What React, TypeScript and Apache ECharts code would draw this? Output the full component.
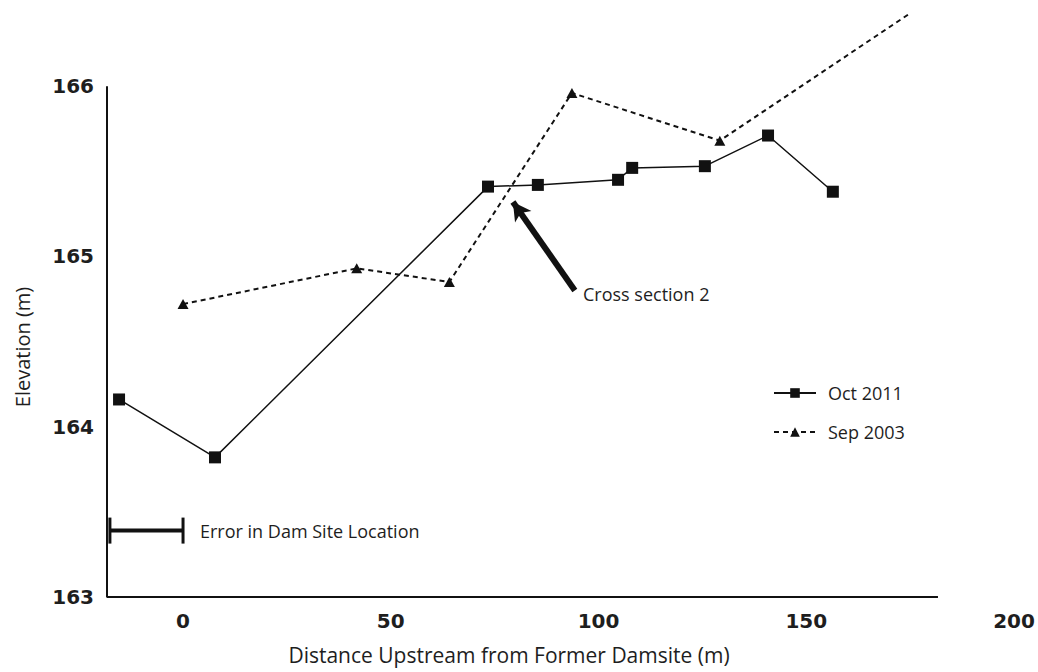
import React, { useEffect, useRef } from "react";
import * as echarts from "echarts";

// Oct 2011 survey (squares, solid line)
const octX = [-15.4, 7.7, 73.4, 85.4, 104.7, 108.1, 125.6, 140.8, 156.4];
const octY = [164.16, 163.82, 165.41, 165.42, 165.45, 165.52, 165.53, 165.71, 165.38];
// Sep 2003 survey (triangles, dashed line); last point is where the line leaves the frame
const sepX = [0, 41.8, 64.1, 93.6, 129.2, 174.5];
const sepY = [164.72, 164.93, 164.85, 165.96, 165.68, 166.42];
// tick labels
const xTicks = [0, 50, 100, 150, 200];
const yTicks = [163, 164, 165, 166];
// axis frame (drawn in data space)
const frameX = [-18.3, -18.3, 181.7];
const frameY = [166, 163, 163];
// error bar for dam site location
const errX = [-17.6, 0];
const errY = [163.39, 163.39];
// arrow pointing at cross section 2 (tail -> tip)
const arrowX = [94.3, 79.4];
const arrowY = [164.8, 165.32];

const FONT = "'Open Sans', 'Noto Sans', sans-serif";
const TICKFONT = "'DejaVu Sans', sans-serif";

export default function App() {
  const ref = useRef<HTMLDivElement>(null);
  useEffect(() => {
    if (!ref.current) return;
    const chart = echarts.init(ref.current, null, { renderer: "svg" });
    const zip = (xs: number[], ys: number[]) => xs.map((x, i) => [x, ys[i]]);
    const sepData: any[] = zip(sepX, sepY).map((p, i) =>
      i === sepX.length - 1 ? { value: p, symbol: "none" } : p
    );
    chart.setOption({
      animation: false,
      backgroundColor: "#ffffff",
      grid: { left: 107, right: 24, top: 1, bottom: 75, containLabel: false },
      xAxis: {
        type: "value",
        min: -18.3,
        max: 200,
        axisLine: { show: false },
        axisTick: { show: false },
        splitLine: { show: false },
        axisLabel: {
          customValues: xTicks,
          margin: 14,
          fontSize: 20,
          fontWeight: "bold",
          fontFamily: TICKFONT,
          color: "#1e1e1e",
        },
      },
      yAxis: {
        type: "value",
        min: 163,
        max: 166.5,
        axisLine: { show: false },
        axisTick: { show: false },
        splitLine: { show: false },
        axisLabel: {
          customValues: yTicks,
          margin: 13,
          fontSize: 20,
          fontWeight: "bold",
          fontFamily: TICKFONT,
          color: "#1e1e1e",
          padding: [11, 0, 0, 0],
        },
      },
      legend: {
        orient: "vertical",
        left: 773,
        top: 384,
        padding: 0,
        itemWidth: 42,
        itemHeight: 12,
        itemGap: 21,
        data: ["Oct 2011", "Sep 2003"],
        textStyle: { fontSize: 18, fontFamily: FONT, color: "#1e1e1e", padding: [0, 0, 0, 7] },
      },
      graphic: [
        {
          type: "text",
          x: 509,
          y: 655,
          style: {
            text: "Distance Upstream from Former Damsite (m)",
            font: `21px ${FONT}`,
            fill: "#1e1e1e",
            textAlign: "center",
            textVerticalAlign: "middle",
          },
        },
        {
          type: "text",
          x: 22,
          y: 347,
          rotation: Math.PI / 2,
          style: {
            text: "Elevation (m)",
            font: `20px ${FONT}`,
            fill: "#1e1e1e",
            textAlign: "center",
            textVerticalAlign: "middle",
          },
        },
        {
          type: "text",
          x: 200,
          y: 531,
          style: {
            text: "Error in Dam Site Location",
            font: `18px ${FONT}`,
            fill: "#1e1e1e",
            textAlign: "left",
            textVerticalAlign: "middle",
          },
        },
        {
          type: "text",
          x: 583,
          y: 294,
          style: {
            text: "Cross section 2",
            font: `18px ${FONT}`,
            fill: "#1e1e1e",
            textAlign: "left",
            textVerticalAlign: "middle",
          },
        },
      ],
      series: [
        {
          name: "frame",
          type: "line",
          data: zip(frameX, frameY),
          symbol: "none",
          silent: true,
          lineStyle: { color: "#111", width: 2 },
          z: 1,
        },
        {
          name: "Oct 2011",
          type: "line",
          data: zip(octX, octY),
          symbol: "rect",
          symbolSize: 12,
          itemStyle: { color: "#111" },
          lineStyle: { color: "#111", width: 1.5, type: "solid" },
          z: 3,
        },
        {
          name: "Sep 2003",
          type: "line",
          data: sepData,
          symbol: "triangle",
          symbolSize: [11, 10],
          itemStyle: { color: "#111" },
          lineStyle: { color: "#111", width: 2, type: [5, 4] },
          z: 3,
        },
        {
          name: "error",
          type: "line",
          data: zip(errX, errY),
          symbol: "rect",
          symbolSize: [3, 26],
          silent: true,
          itemStyle: { color: "#111" },
          lineStyle: { color: "#111", width: 4 },
          z: 2,
        },
        {
          name: "arrow",
          type: "line",
          data: [],
          silent: true,
          markLine: {
            silent: true,
            symbol: ["none", "arrow"],
            symbolSize: [15, 18],
            label: { show: false },
            lineStyle: { color: "#111", width: 6, type: "solid" },
            data: [
              [
                { coord: [arrowX[0], arrowY[0]] },
                { coord: [arrowX[1], arrowY[1]] },
              ],
            ],
          },
        },
      ],
    });
    return () => chart.dispose();
  }, []);
  return (
    <div
      ref={ref}
      style={{ position: "fixed", left: 0, top: 0, width: 1038, height: 672, background: "#fff" }}
    />
  );
}
